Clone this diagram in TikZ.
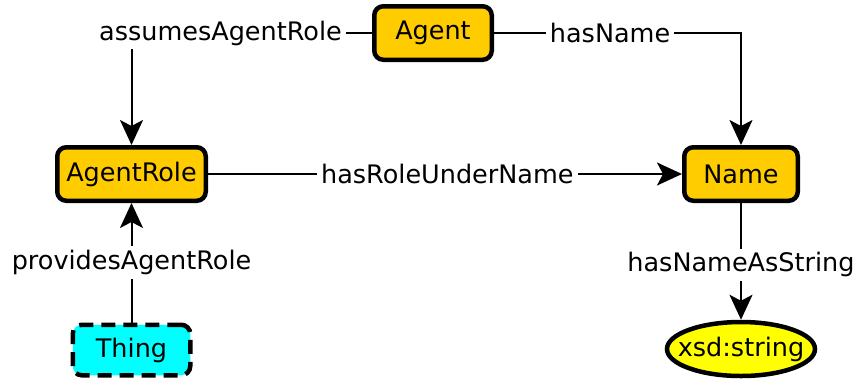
\documentclass[tikz,border=0pt]{standalone}
\usepackage{fontspec}
\setmainfont{DejaVu Sans}
\usetikzlibrary{arrows.meta,shapes.geometric}
\definecolor{clsfill}{HTML}{FFCC00}
\definecolor{thingfill}{HTML}{00FFFF}
\definecolor{dtfill}{HTML}{FFFF00}
\begin{document}
\begin{tikzpicture}[x=1pt,y=-1pt,
  font=\fontsize{25.5}{30}\selectfont,
  cls/.style={draw, line width=4.5pt, rounded corners=9pt, fill=clsfill, inner sep=0pt},
  thingbox/.style={draw, line width=4.5pt, rounded corners=9pt, fill=thingfill, inner sep=0pt, dash pattern=on 14pt off 8pt},
  dtype/.style={draw, ellipse, line width=4.5pt, fill=dtfill, inner sep=0pt},
  conn/.style={line width=2pt, -{Stealth[length=25pt 0 0,width=23pt 0 0,inset=6pt]}},
  lbl/.style={fill=white, inner sep=4pt}
]
\useasboundingbox (0,0) rectangle (857,384);

\node[cls, minimum width=117.5pt, minimum height=53.5pt] (agent) at (433,33) {Agent};
\node[cls, minimum width=148.5pt, minimum height=53.5pt] (agentrole) at (131.5,174) {AgentRole};
\node[cls, minimum width=113.5pt, minimum height=53.5pt] (name) at (741,174) {Name};
\node[thingbox, minimum width=117.5pt, minimum height=50.5pt] (thing) at (131.5,350) {Thing};
\node[dtype, minimum width=148pt, minimum height=54pt] (xsd) at (741,349) {\makebox[0pt]{xsd:string}\vphantom{g}};

\draw[conn] (agent.west) -| (agentrole.north) node[lbl, pos=0.315] {assumesAgentRole};
\draw[conn] (agent.east) -| (name.north) node[lbl, pos=0.235] {hasName};
\draw[conn] (agentrole.east) -- (name.west) node[lbl, pos=0.505] {hasRoleUnderName};
\draw[conn] (thing.north) -- (agentrole.south) node[lbl, pos=0.5] {providesAgentRole};
\draw[conn] (name.south) -- (xsd.north) node[lbl, pos=0.53] {hasNameAsString};
\end{tikzpicture}
\end{document}
